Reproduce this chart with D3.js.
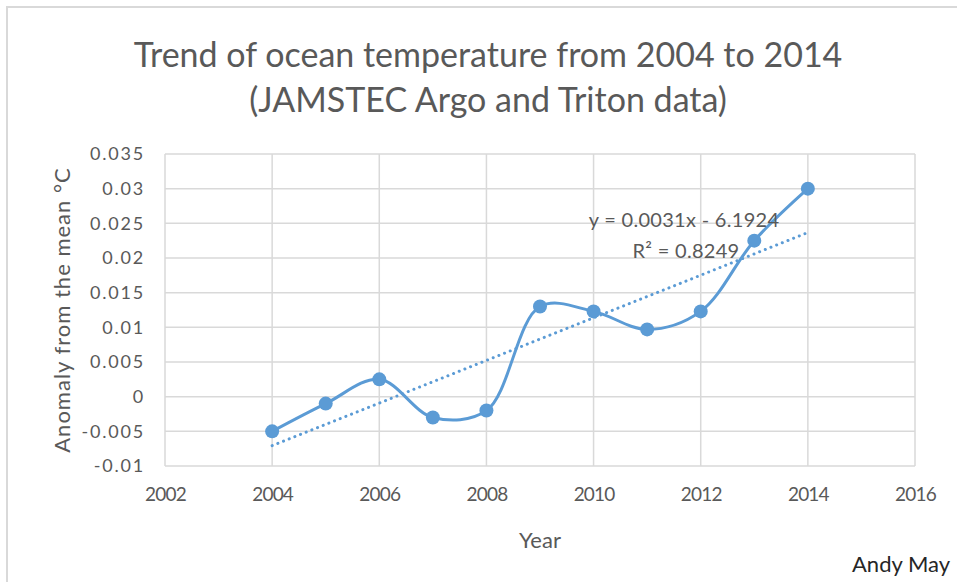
<!DOCTYPE html>
<html lang="en">
<head>
  <meta charset="utf-8">
  <title>Trend of ocean temperature</title>
  <script src="https://cdn.jsdelivr.net/npm/d3@7"></script>
  <style>
    body { margin: 0; background: #fff; }
    text { font-family: Lato, "Open Sans", sans-serif; fill: #595959; }
  </style>
</head>
<body>
<div id="chart"></div>
<script>
  "use strict"

  // dados
  var anos = [2004, 2005, 2006, 2007, 2008, 2009, 2010, 2011, 2012, 2013, 2014];
  var anomalias = [-0.005, -0.001, 0.0025, -0.003, -0.002, 0.013, 0.0123, 0.0097, 0.0123, 0.0225, 0.030];
  var ticksX = [2002, 2004, 2006, 2008, 2010, 2012, 2014, 2016];
  var ticksY = [-0.01, -0.005, 0, 0.005, 0.01, 0.015, 0.02, 0.025, 0.03, 0.035];
  var equacao = "y = 0.0031x - 6.1924";
  var r2 = "R² = 0.8249";

  var larguraSVG = 957, alturaSVG = 582;
  var margin = {top: 154, right: 42, bottom: 116, left: 165},
      larguraVis = larguraSVG - margin.left - margin.right,
      alturaVis = alturaSVG - margin.top - margin.bottom;

  var svg = d3.select('#chart').append('svg')
      .attr('width', larguraSVG)
      .attr('height', alturaSVG);

  // borda do grafico
  svg.append('rect')
    .attr('x', 7).attr('y', 7)
    .attr('width', 980).attr('height', 620)
    .attr('fill', 'none')
    .attr('stroke', '#d9d9d9')
    .attr('stroke-width', 2);

  var grafico = svg.append('g')
      .attr('transform', 'translate(' + margin.left + ',' + margin.top + ')');

  var xScale = d3.scaleLinear().domain([2002, 2016]).range([0, larguraVis]);
  var yScale = d3.scaleLinear().domain([-0.01, 0.035]).range([alturaVis, 0]);

  // grade
  grafico.selectAll('.gy').data(ticksY).enter().append('line')
    .attr('x1', 0).attr('x2', larguraVis)
    .attr('y1', d => yScale(d)).attr('y2', d => yScale(d))
    .attr('stroke', '#d9d9d9').attr('stroke-width', 1.5);
  grafico.selectAll('.gx').data(ticksX).enter().append('line')
    .attr('y1', 0).attr('y2', alturaVis)
    .attr('x1', d => xScale(d)).attr('x2', d => xScale(d))
    .attr('stroke', '#d9d9d9').attr('stroke-width', 1.5);

  // eixos
  var eixoY = grafico.append('g')
    .call(d3.axisLeft(yScale).tickValues(ticksY).tickSize(0).tickPadding(20)
      .tickFormat(d => d === 0 ? "0" : String(+d.toFixed(3))));
  var eixoX = grafico.append('g')
    .attr('transform', 'translate(0,' + alturaVis + ')')
    .call(d3.axisBottom(xScale).tickValues(ticksX).tickSize(0).tickPadding(22)
      .tickFormat(d3.format('d')));
  [eixoY, eixoX].forEach(function(e) {
    e.select('.domain').remove();
    e.selectAll('text').style('font-size', '18px').attr('fill', '#595959')
      .style('font-family', 'Lato, "Open Sans", sans-serif');
  });
  eixoY.selectAll('text').style('letter-spacing', '1.8px');
  eixoX.selectAll('text').style('font-size', '19px').style('letter-spacing', '-0.8px');

  // linha de tendencia (minimos quadrados)
  var n = anos.length;
  var mx = d3.mean(anos), my = d3.mean(anomalias);
  var sxy = d3.sum(anos, (a, i) => (a - mx) * (anomalias[i] - my));
  var sxx = d3.sum(anos, a => (a - mx) * (a - mx));
  var b = sxy / sxx, a0 = my - b * mx;
  var x0 = anos[0], x1 = anos[n - 1];
  grafico.append('line')
    .attr('x1', xScale(x0)).attr('y1', yScale(a0 + b * x0))
    .attr('x2', xScale(x1)).attr('y2', yScale(a0 + b * x1))
    .attr('stroke', '#5b9bd5').attr('stroke-width', 3)
    .attr('stroke-dasharray', '0.1,6').attr('stroke-linecap', 'round');

  // serie suavizada
  var pontos = anos.map((a, i) => [a, anomalias[i]]);
  var linha = d3.line()
    .x(d => xScale(d[0])).y(d => yScale(d[1]))
    .curve(d3.curveCatmullRom.alpha(0.5));
  grafico.append('path').datum(pontos)
    .attr('d', linha)
    .attr('fill', 'none')
    .attr('stroke', '#5b9bd5').attr('stroke-width', 3);

  grafico.selectAll('circle').data(pontos).enter().append('circle')
    .attr('cx', d => xScale(d[0])).attr('cy', d => yScale(d[1]))
    .attr('r', 7).attr('fill', '#5b9bd5');

  // rotulo da tendencia
  grafico.append('text').attr('x', 519).attr('y', 73)
    .attr('text-anchor', 'middle').style('font-size', '20px')
    .style('letter-spacing', '0.3px').text(equacao);
  grafico.append('text').attr('x', 521).attr('y', 104)
    .attr('text-anchor', 'middle').style('font-size', '20px')
    .style('letter-spacing', '0.3px').text(r2);

  // titulos
  svg.append('text').attr('x', 488).attr('y', 67)
    .attr('text-anchor', 'middle').style('font-size', '34px')
    .text('Trend of ocean temperature from 2004 to 2014');
  svg.append('text').attr('x', 488).attr('y', 112)
    .attr('text-anchor', 'middle').style('font-size', '34px')
    .text('(JAMSTEC Argo and Triton data)');

  svg.append('text').attr('x', 540).attr('y', 548)
    .attr('text-anchor', 'middle').style('font-size', '22px').text('Year');
  svg.append('text')
    .attr('transform', 'translate(70,' + (margin.top + alturaVis / 2) + ') rotate(-90)')
    .attr('text-anchor', 'middle').style('font-size', '22px')
    .style('letter-spacing', '1px')
    .text('Anomaly from the mean °C');

  svg.append('text').attr('x', 950).attr('y', 572)
    .attr('text-anchor', 'end').style('font-size', '22px')
    .style('fill', '#262626').text('Andy May');
</script>
</body>
</html>
